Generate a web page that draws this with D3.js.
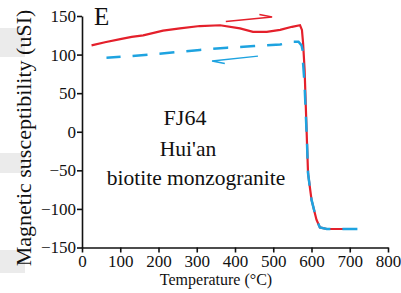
<!DOCTYPE html>
<html>
<head>
<meta charset="utf-8">
<script src="https://cdn.jsdelivr.net/npm/d3@7"></script>
<style>
  body { margin: 0; background: #fff; }
  text { font-family: "Liberation Serif", "Times New Roman", serif; fill: #111; }
</style>
</head>
<body>
<script>
// heating run (red, solid)
var heatT = [25, 60, 100, 130, 160, 212, 256, 308, 361, 413, 447, 483, 518, 549, 570, 575, 578, 582, 588, 591, 600, 613, 622, 640, 680, 700];
var heatK = [112, 116, 120, 123, 125, 131, 134, 137, 138, 134, 129.5, 129.5, 132, 136, 138, 132, 115, 80, -11, -54, -88, -114, -124, -126, -126, -126];

// cooling run (blue, dashed)
var coolT = [720, 680, 640, 622, 613, 600, 591, 588, 582, 578, 577, 574, 566, 548, 518, 450, 380, 308, 200, 130, 64];
var coolK = [-126, -126, -126, -124, -114, -88, -54, -11, 60, 89, 105, 112, 116.6, 116.6, 113, 111, 109, 106, 101, 98, 96];

var xTicks = [0, 100, 200, 300, 400, 500, 600, 700, 800];
var yTicks = [-150, -100, -50, 0, 50, 100, 150];

// direction arrows [T0, k0, T1, k1]
var heatArrow = [376, 143, 497, 148.6];
var coolArrow = [460, 98, 340, 91.6];

var sampleLines = ["FJ64", "Hui'an", "biotite monzogranite"];

var margin = {top: 16, right: 13, bottom: 45.5, left: 82},
    width = 401 - margin.left - margin.right,
    height = 293 - margin.top - margin.bottom;

var svg0 = d3.select("body").append("svg")
    .attr("width", 401)
    .attr("height", 293);

// light grey patches at left edge of the scan
[[28, 29], [153, 20], [250, 23]].forEach(function(p) {
  svg0.append("rect").attr("x", 0).attr("y", p[0]).attr("width", 25).attr("height", p[1]).style("fill", "#ebebeb");
});

var svg = svg0.append("g")
    .attr("transform", "translate(" + margin.left + "," + margin.top + ")");

var x = d3.scaleLinear().domain([0, 800]).range([0, width]);
var y = d3.scaleLinear().domain([-150, 150]).range([height, 0]);

var line = d3.line()
    .x(function(d) { return x(d.t); })
    .y(function(d) { return y(d.k); });

var heat = heatT.map(function(t, i) { return {t: t, k: heatK[i]}; });
var cool = coolT.map(function(t, i) { return {t: t, k: coolK[i]}; });

svg.append("path")
    .datum(heat)
    .style("fill", "none")
    .style("stroke", "#e4202b")
    .style("stroke-width", "2.2px")
    .attr("d", line);

svg.append("path")
    .datum(cool)
    .style("fill", "none")
    .style("stroke", "#1ea3e0")
    .style("stroke-width", "2.5px")
    .style("stroke-dasharray", "15,12")
    .attr("d", line);

// arrows with half barbs
function arrow(a, col) {
  var x0 = x(a[0]), y0 = y(a[1]), x1 = x(a[2]), y1 = y(a[3]);
  var ang = Math.atan2(y1 - y0, x1 - x0);
  var bx = x1 - 13 * Math.cos(ang + 0.3),
      by = y1 - 13 * Math.sin(ang + 0.3);
  svg.append("path")
      .attr("d", "M" + x0 + "," + y0 + "L" + x1 + "," + y1 + "L" + bx + "," + by)
      .style("fill", "none")
      .style("stroke", col)
      .style("stroke-width", "1.5px");
}
arrow(heatArrow, "#e4202b");
arrow(coolArrow, "#1ea3e0");

// axes
var xAxis = svg.append("g")
    .attr("transform", "translate(0," + height + ")")
    .call(d3.axisBottom(x).tickValues(xTicks).tickSize(5).tickSizeOuter(0));
var yAxis = svg.append("g")
    .call(d3.axisLeft(y).tickValues(yTicks).tickSize(5).tickSizeOuter(0));

[xAxis, yAxis].forEach(function(g) {
  g.selectAll("path, line").style("stroke", "#111").style("stroke-width", "1.6px");
  g.selectAll("text").style("font-family", "Liberation Serif").style("font-size", "17px").style("fill", "#111");
});
xAxis.selectAll("text").attr("dy", "0.95em").attr("y", 3);
yAxis.selectAll("text").attr("x", -6);

svg0.append("text")
    .attr("x", 216).attr("y", 285)
    .attr("text-anchor", "middle")
    .style("font-size", "16px")
    .text("Temperature (°C)");

svg0.append("text")
    .attr("transform", "translate(31,138) rotate(-90)")
    .attr("text-anchor", "middle")
    .style("font-size", "22px")
    .text("Magnetic susceptibility (uSI)");

svg0.append("text")
    .attr("x", 94).attr("y", 25)
    .style("font-size", "25px")
    .text("E");

var labY = [125, 156, 185], labX = [185, 188, 196];
sampleLines.forEach(function(s, i) {
  svg0.append("text")
      .attr("x", labX[i]).attr("y", labY[i])
      .attr("text-anchor", "middle")
      .style("font-size", i == 0 ? "22px" : "21.5px")
      .text(s);
});
</script>
</body>
</html>
